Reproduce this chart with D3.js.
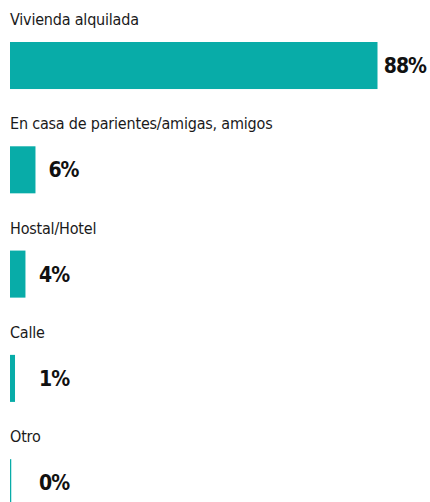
<!DOCTYPE html>
<html>
<head>
<meta charset="utf-8">
<script src="https://cdn.jsdelivr.net/npm/d3@7"></script>
<style>
  html, body { margin: 0; padding: 0; background: #ffffff; }
  svg { display: block; }
  .cat { font-family: "DejaVu Sans Condensed", "Roboto", sans-serif; font-size: 16px; letter-spacing: -0.2px; fill: #1a1a1a; }
  .val { font-family: "DejaVu Sans Condensed", "Roboto", sans-serif; font-weight: bold; font-size: 21px; letter-spacing: -1px; fill: #111111; }
</style>
</head>
<body>
<svg id="chart" width="430" height="502"></svg>
<script>
const categories = ["Vivienda alquilada", "En casa de parientes/amigas, amigos", "Hostal/Hotel", "Calle", "Otro"];
const values = [88, 6.1, 3.7, 1.2, 0.3];
const valueLabels = ["88%", "6%", "4%", "1%", "0%"];

const W = 430, H = 502;
const svg = d3.select("#chart");

const x = d3.scaleLinear().domain([0, 88]).range([10, 377.5]);
const y = d3.scaleBand().domain(categories).range([42, 506.2]).paddingInner(0.549).paddingOuter(0);

const rows = svg.selectAll("g.row").data(categories).join("g").attr("class", "row");

rows.append("text")
  .attr("class", "cat")
  .attr("x", 10)
  .attr("y", d => y(d) - 17)
  .text(d => d);

rows.append("rect")
  .attr("x", x(0))
  .attr("y", d => y(d))
  .attr("width", (d, i) => Math.max(0, x(values[i]) - x(0)))
  .attr("height", y.bandwidth())
  .attr("fill", "#08aca8");

rows.append("text")
  .attr("class", "val")
  .attr("y", d => y(d) + y.bandwidth() / 2)
  .attr("dy", "0.36em")
  .text((d, i) => valueLabels[i])
  .each(function(d, i) {
    const tw = this.getComputedTextLength();
    let lx = Math.max(x(values[i]) + 13, 39);
    if (lx + tw > W - 4) lx = W - 4 - tw;
    d3.select(this).attr("x", lx);
  });
</script>
</body>
</html>
